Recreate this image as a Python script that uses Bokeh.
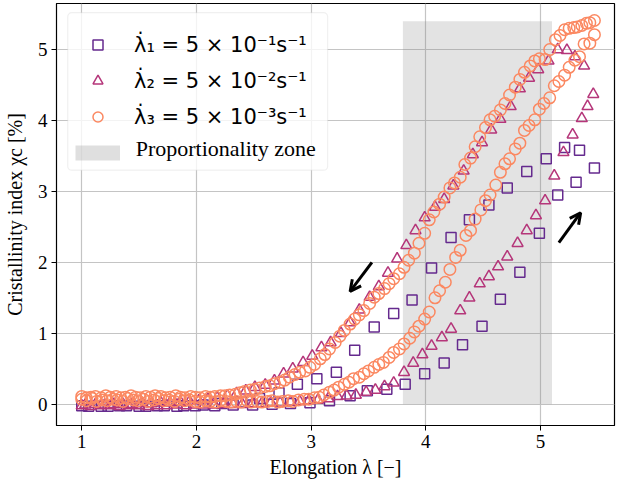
from bokeh.plotting import figure
from bokeh.models import (Range1d, Legend, LegendItem, Label, Arrow, OpenHead, FixedTicker,
                          BoxAnnotation)
from bokeh.embed import file_html
from bokeh.resources import INLINE

# ---------------- data ----------------
x_ticks = [1, 2, 3, 4, 5]
y_ticks = [0, 1, 2, 3, 4, 5]

labels = ["\u03bb\u0307\u2081 = 5 \u00d7 10\u207b\u00b9s\u207b\u00b9",
          "\u03bb\u0307\u2082 = 5 \u00d7 10\u207b\u00b2s\u207b\u00b9",
          "\u03bb\u0307\u2083 = 5 \u00d7 10\u207b\u00b3s\u207b\u00b9"]
zone_label = "Proportionality zone"

zone_x = [3.8, 5.1]
zone_y = [0.0, 5.4]

sq_load_x = [1.00, 1.17, 1.33, 1.50, 1.66, 1.83, 1.99, 2.16, 2.32, 2.49, 2.66, 2.82, 2.99, 3.16,
             3.34, 3.49, 3.66, 3.82, 3.99, 4.16, 4.32, 4.49, 4.65, 4.82, 4.99, 5.15, 5.31, 5.47]
sq_load_y = [-0.02, -0.03, -0.02, -0.03, -0.02, -0.03, -0.02, -0.02, -0.01, -0.01, 0.00, 0.01, 0.02, 0.05,
             0.12, 0.19, 0.21, 0.28, 0.43, 0.58, 0.84, 1.10, 1.48, 1.86, 2.41, 2.95, 3.13, 3.33]
sq_unload_x = [5.34, 5.21, 5.05, 4.88, 4.71, 4.55, 4.38, 4.22, 4.05, 3.88, 3.72, 3.55, 3.38, 3.22,
               3.05, 2.88, 2.72, 2.55, 2.39, 2.22, 2.06, 1.89, 1.72, 1.56, 1.39, 1.23, 1.06]
sq_unload_y = [3.58, 3.62, 3.46, 3.28, 3.05, 2.81, 2.60, 2.35, 1.92, 1.47, 1.28, 1.09, 0.76, 0.45,
               0.36, 0.28, 0.16, 0.08, 0.03, 0.01, -0.01, -0.02, -0.02, -0.03, -0.02, -0.03, -0.03]

tri_load_x = [1.00, 1.08, 1.17, 1.25, 1.33, 1.41, 1.50, 1.58, 1.66, 1.74, 1.83, 1.91,
              1.99, 2.07, 2.16, 2.24, 2.32, 2.40, 2.49, 2.57, 2.65, 2.73, 2.82, 2.90,
              2.98, 3.06, 3.15, 3.23, 3.31, 3.39, 3.48, 3.56, 3.64, 3.72, 3.81, 3.89,
              3.97, 4.05, 4.14, 4.22, 4.30, 4.38, 4.47, 4.55, 4.63, 4.71, 4.80, 4.88,
              4.96, 5.04, 5.12, 5.20, 5.28, 5.36, 5.41, 5.46]
tri_load_y = [-0.02, -0.03, -0.02, -0.02, -0.03, -0.02, -0.02, -0.03, -0.02, -0.02, -0.01, -0.02,
              -0.01, -0.01, -0.01, 0.00, 0.00, 0.00, 0.01, 0.01, 0.02, 0.02, 0.03, 0.04,
              0.05, 0.06, 0.08, 0.11, 0.12, 0.13, 0.17, 0.20, 0.25, 0.30, 0.45, 0.58,
              0.70, 0.82, 0.94, 1.06, 1.32, 1.50, 1.70, 1.80, 1.94, 2.08, 2.27, 2.45,
              2.66, 2.87, 3.22, 3.55, 3.80, 4.03, 4.20, 4.37]
tri_unload_x = [5.38, 5.30, 5.23, 5.15, 5.07, 4.98, 4.90, 4.82, 4.74, 4.65,
                4.57, 4.49, 4.41, 4.33, 4.24, 4.16, 4.08, 3.99, 3.91, 3.83,
                3.75, 3.67, 3.59, 3.51, 3.42, 3.34, 3.26, 3.17, 3.09, 3.01,
                2.93, 2.84, 2.76, 2.68, 2.60, 2.51, 2.43, 2.35, 2.27, 2.18,
                2.10, 2.02, 1.94, 1.86, 1.77, 1.69, 1.61, 1.53, 1.44, 1.36,
                1.28, 1.20, 1.12, 1.03]
tri_unload_y = [4.77, 4.90, 4.99, 5.00, 4.84, 4.72, 4.60, 4.45, 4.20, 4.02,
                3.87, 3.69, 3.52, 3.29, 3.08, 2.89, 2.78, 2.63, 2.45, 2.24,
                2.05, 1.85, 1.66, 1.51, 1.33, 1.15, 1.00, 0.87, 0.80, 0.68,
                0.59, 0.50, 0.43, 0.33, 0.27, 0.24, 0.19, 0.15, 0.12, 0.09,
                0.07, 0.05, 0.04, 0.03, 0.02, 0.02, 0.01, 0.01, 0.00, 0.00,
                0.00, -0.01, 0.00, -0.01]

ci_load_x = [1.00, 1.04, 1.09, 1.13, 1.18, 1.22, 1.27, 1.31, 1.36, 1.40,
             1.45, 1.49, 1.54, 1.58, 1.63, 1.67, 1.72, 1.76, 1.81, 1.85,
             1.90, 1.94, 1.99, 2.03, 2.08, 2.12, 2.17, 2.21, 2.26, 2.30,
             2.35, 2.39, 2.44, 2.48, 2.53, 2.57, 2.62, 2.66, 2.71, 2.75,
             2.80, 2.84, 2.89, 2.94, 2.98, 3.03, 3.07, 3.11, 3.16, 3.20,
             3.24, 3.29, 3.33, 3.37, 3.42, 3.46, 3.50, 3.55, 3.59, 3.63,
             3.68, 3.72, 3.77, 3.81, 3.86, 3.90, 3.94, 3.99, 4.03, 4.08,
             4.12, 4.17, 4.21, 4.26, 4.30, 4.35, 4.39, 4.43, 4.48, 4.52,
             4.56, 4.61, 4.65, 4.69, 4.73, 4.78, 4.82, 4.86, 4.90, 4.95,
             4.99, 5.03, 5.08, 5.12, 5.16, 5.21, 5.25, 5.30, 5.34, 5.38,
             5.43, 5.47]
ci_load_y = [0.07, 0.05, 0.08, 0.04, 0.06, 0.05, 0.07, 0.06, 0.04, 0.08,
             0.06, 0.05, 0.07, 0.04, 0.06, 0.08, 0.05, 0.06, 0.04, 0.07,
             0.05, 0.06, 0.04, 0.03, 0.05, 0.04, 0.03, 0.05, 0.04, 0.03,
             0.04, 0.03, 0.05, 0.03, 0.04, 0.03, 0.04, 0.05, 0.03, 0.04,
             0.05, 0.04, 0.06, 0.07, 0.07, 0.09, 0.10, 0.13, 0.17, 0.20,
             0.24, 0.28, 0.31, 0.36, 0.38, 0.43, 0.47, 0.52, 0.56, 0.59,
             0.66, 0.73, 0.78, 0.85, 0.93, 1.02, 1.10, 1.20, 1.30, 1.50,
             1.60, 1.72, 1.90, 2.07, 2.17, 2.38, 2.45, 2.61, 2.74, 2.87,
             2.95, 3.09, 3.27, 3.39, 3.46, 3.60, 3.68, 3.86, 3.93, 4.01,
             4.16, 4.24, 4.32, 4.49, 4.55, 4.64, 4.75, 4.85, 4.90, 5.08,
             5.09, 5.21]
ci_unload_x = [5.47, 5.43, 5.40, 5.36, 5.32, 5.29, 5.25, 5.21, 5.17, 5.13,
               5.08, 5.04, 4.99, 4.95, 4.91, 4.86, 4.82, 4.78, 4.73, 4.69,
               4.65, 4.60, 4.56, 4.52, 4.47, 4.43, 4.39, 4.34, 4.30, 4.25,
               4.21, 4.16, 4.12, 4.07, 4.03, 3.99, 3.94, 3.90, 3.85, 3.81,
               3.77, 3.72, 3.68, 3.64, 3.59, 3.55, 3.51, 3.46, 3.42, 3.38,
               3.34, 3.29, 3.25, 3.21, 3.16, 3.12, 3.08, 3.03, 2.99, 2.95,
               2.90, 2.86, 2.81, 2.77, 2.73, 2.68, 2.64, 2.60, 2.55, 2.51,
               2.47, 2.42, 2.38, 2.34, 2.29, 2.25, 2.21, 2.16, 2.12, 2.08,
               2.03, 1.99, 1.95, 1.90, 1.86, 1.82, 1.77, 1.73, 1.69, 1.64,
               1.60, 1.56, 1.51, 1.47, 1.43, 1.38, 1.34, 1.30, 1.25, 1.21,
               1.17, 1.12, 1.08, 1.04, 1.00]
ci_unload_y = [5.41, 5.38, 5.37, 5.34, 5.32, 5.31, 5.30, 5.28, 5.20, 5.14,
               5.00, 4.86, 4.87, 4.84, 4.77, 4.68, 4.58, 4.47, 4.36, 4.24,
               4.15, 4.06, 4.01, 3.90, 3.77, 3.63, 3.47, 3.38, 3.20, 3.12,
               3.05, 2.92, 2.82, 2.71, 2.60, 2.41, 2.27, 2.13, 2.03, 1.93,
               1.84, 1.77, 1.70, 1.63, 1.56, 1.51, 1.42, 1.32, 1.26, 1.20,
               1.13, 1.04, 0.96, 0.87, 0.78, 0.70, 0.64, 0.56, 0.52, 0.47,
               0.45, 0.42, 0.38, 0.34, 0.31, 0.29, 0.26, 0.25, 0.23, 0.21,
               0.20, 0.18, 0.16, 0.14, 0.13, 0.12, 0.12, 0.11, 0.10, 0.11,
               0.09, 0.10, 0.11, 0.09, 0.10, 0.12, 0.10, 0.09, 0.11, 0.12,
               0.10, 0.11, 0.09, 0.10, 0.12, 0.10, 0.09, 0.11, 0.10, 0.12,
               0.09, 0.11, 0.10, 0.09, 0.11]

# arrows (start, end) in data units
arrow_unload = [(3.53, 2.00), (3.34, 1.59)]
arrow_load = [(5.16, 2.28), (5.35, 2.70)]

colors = ["#652a8e", "#b5367a", "#fb8861"]

# ---------------- figure ----------------
SERIF = "Liberation Serif"
p = figure(width=618, height=492, output_backend="svg", toolbar_location=None,
           x_range=Range1d(0.78, 5.645), y_range=Range1d(-0.30, 5.65),
           min_border_left=56, min_border_right=4, min_border_top=3, min_border_bottom=67)
p.background_fill_color = "white"
p.border_fill_color = "white"
p.outline_line_color = "black"
p.outline_line_width = 1.2

for ax in (p.xaxis[0], p.yaxis[0]):
    ax.major_label_text_font = SERIF
    ax.major_label_text_font_size = "19px"
    ax.major_label_text_color = "black"
    ax.axis_label_text_font = SERIF
    ax.axis_label_text_font_size = "20px"
    ax.axis_label_text_font_style = "normal"
    ax.axis_label_text_color = "black"
    ax.minor_tick_line_color = None
    ax.major_tick_out = 5
    ax.major_tick_in = 0
    ax.major_tick_line_color = "black"
    ax.axis_line_color = "black"
    ax.major_label_standoff = 4
p.xaxis.ticker = FixedTicker(ticks=x_ticks)
p.yaxis.ticker = FixedTicker(ticks=y_ticks)
p.xaxis.axis_label = "Elongation \u03bb [\u2212]"
p.yaxis.axis_label = "Cristallinity index \u03c7c [%]"
p.xaxis.axis_label_standoff = 5
p.yaxis.axis_label_standoff = 9

p.grid.grid_line_color = "#c4c4c4"
p.grid.grid_line_width = 1.2

# legend frame (rounded, translucent white) drawn beneath everything else
p.add_layout(BoxAnnotation(left=0.878, right=3.144, bottom=3.30, top=5.52,
                           fill_color="white", fill_alpha=0.8,
                           line_color="#cccccc", line_width=1.2, border_radius=4,
                           level="underlay"))

zone = p.quad(left=zone_x[0], right=zone_x[1], bottom=zone_y[0], top=zone_y[1],
              fill_color="gray", fill_alpha=0.22, line_color=None)

r1 = p.scatter(sq_load_x + sq_unload_x, sq_load_y + sq_unload_y, marker="square", size=10,
               fill_color=None, line_color=colors[0], line_width=1.5)
r2 = p.scatter(tri_load_x + tri_unload_x, tri_load_y + tri_unload_y, marker="triangle", size=11,
               fill_color=None, line_color=colors[1], line_width=1.5)
r3 = p.scatter(ci_load_x + ci_unload_x, ci_load_y + ci_unload_y, marker="circle", size=11.5,
               fill_color=None, line_color=colors[2], line_width=1.5)

# legend swatch for the zone: a thick translucent line that draws nothing in the plot
nan = float("nan")
zone_swatch = p.line([nan, nan], [nan, nan], line_color="gray", line_alpha=0.25, line_width=15)

for (xs, ys), (xe, ye) in (arrow_unload, arrow_load):
    p.add_layout(Arrow(x_start=xs, y_start=ys, x_end=xe, y_end=ye, line_width=3,
                       line_color="black",
                       end=OpenHead(size=11, line_width=3, line_color="black")))

legend = Legend(items=[LegendItem(label=labels[0], renderers=[r1]),
                       LegendItem(label=labels[1], renderers=[r2]),
                       LegendItem(label=labels[2], renderers=[r3]),
                       LegendItem(label="\u00a0", renderers=[zone_swatch])],
                location=(19, 260))
legend.label_text_font = "DejaVu Sans"
legend.label_text_font_size = "21px"
legend.label_text_color = "black"
legend.glyph_width = 45
legend.glyph_height = 25
legend.label_height = 25
legend.spacing = 11
legend.padding = 7
legend.margin = 0
legend.label_standoff = 14
legend.border_line_color = None
legend.background_fill_alpha = 0.0
p.add_layout(legend)

p.add_layout(Label(x=1.47, y=3.60, text=zone_label, text_font=SERIF, text_font_size="22px",
                   text_baseline="middle", text_align="left", text_color="black",
                   level="overlay"))

open("out.html", "w", encoding="utf-8").write(file_html(p, INLINE))
